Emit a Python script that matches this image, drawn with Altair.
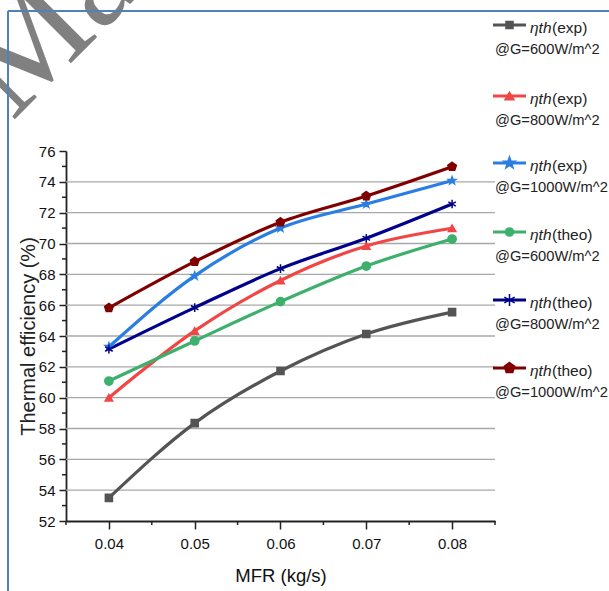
import altair as alt
import pandas as pd

# ---------------- data ----------------
mfr = [0.04, 0.05, 0.06, 0.07, 0.08]
series = ["exp600", "exp800", "exp1000", "theo600", "theo800", "theo1000"]
eff_exp_600 = [53.5, 58.35, 61.73, 64.13, 65.55]
eff_exp_800 = [60.0, 64.33, 67.6, 69.84, 70.99]
eff_exp_1000 = [63.3, 67.9, 71.0, 72.56, 74.08]
eff_theo_600 = [61.08, 63.68, 66.23, 68.54, 70.29]
eff_theo_800 = [63.15, 65.84, 68.37, 70.34, 72.56]
eff_theo_1000 = [65.82, 68.82, 71.38, 73.08, 74.98]
legend_kind = ["(exp)", "(exp)", "(exp)", "(theo)", "(theo)", " (theo)"]
legend_g = ["@G=600W/m^2", "@G=800W/m^2", "@G=1000W/m^2",
            "@G=600W/m^2", "@G=800W/m^2", "@G=1000W/m^2"]
y_ticks = list(range(52, 77, 2))
y_minor = list(range(53, 76, 2))
y_grid = list(range(54, 75, 2))
x_minor = [0.035, 0.045, 0.055, 0.065, 0.075, 0.085]

# ---------------- styles ----------------
colors = ["#545454", "#f04646", "#2a7ee3", "#3cb06c", "#00008b", "#800000"]
STAR = "M0,-1L0.235,-0.324L0.951,-0.309L0.38,0.124L0.588,0.809L0,0.4L-0.588,0.809L-0.38,0.124L-0.951,-0.309L-0.235,-0.324Z"
PENT = "M0,-1L0.951,-0.309L0.588,0.809L-0.588,0.809L-0.951,-0.309Z"
AST = "M0,-1L0,1M-0.87,-0.5L0.87,0.5M-0.87,0.5L0.87,-0.5"
shapes = ["square", "triangle-up", STAR, "circle", AST, PENT]
sizes = [50, 80, 150, 65, 140, 120]
FONT = "Liberation Sans"
W, H = 429, 370
L, T = 66, 151

rows = []
for s, vals in zip(series, [eff_exp_600, eff_exp_800, eff_exp_1000,
                            eff_theo_600, eff_theo_800, eff_theo_1000]):
    for m, v in zip(mfr, vals):
        rows.append({"series": s, "mfr": m, "eff": v})
df = pd.DataFrame(rows)

xscale = alt.Scale(domain=[0.035, 0.085], nice=False, zero=False)
yscale = alt.Scale(domain=[52, 76], nice=False, zero=False)
cscale = alt.Scale(domain=series, range=colors)

xaxis = alt.Axis(values=mfr, format=".2f", title="MFR (kg/s)", grid=False,
                 tickSize=8, tickWidth=1.5, tickColor="#222", domainColor="#222",
                 domainWidth=1.8, labelFont=FONT, labelFontSize=15, labelColor="#111",
                 labelPadding=7, labelFlush=False, labelOverlap=False,
                 titleFont=FONT, titleFontSize=18.5, titleFontWeight="normal",
                 titleColor="#111", titlePadding=15)
yaxis = alt.Axis(values=y_ticks, title="Thermal efficiency (%)", grid=False,
                 tickSize=7, tickWidth=1.5, tickColor="#222", domainColor="#222",
                 domainWidth=1.8, labelFont=FONT, labelFontSize=15, labelColor="#111",
                 labelPadding=4, labelFlush=False, labelOverlap=False,
                 titleFont=FONT, titleFontSize=20, titleFontWeight="normal",
                 titleColor="#222", titlePadding=0)

one = pd.DataFrame({"a": [0]})

grid = alt.Chart(pd.DataFrame({"v": y_grid})).mark_rule(
    color="#a8a8a8", strokeWidth=1.3).encode(
    y=alt.Y("v:Q", scale=yscale, axis=yaxis), x=alt.value(0), x2=alt.value(W))

ymin = alt.Chart(pd.DataFrame({"v": y_minor})).mark_rule(
    color="#222", strokeWidth=1.5).encode(
    y=alt.Y("v:Q", scale=yscale, axis=yaxis), x=alt.value(-4), x2=alt.value(0))

xmin = alt.Chart(pd.DataFrame({"v": x_minor})).mark_rule(
    color="#222", strokeWidth=1.5).encode(
    x=alt.X("v:Q", scale=xscale, axis=xaxis), y=alt.value(H), y2=alt.value(H + 4))

lines = alt.Chart(df).mark_line(strokeWidth=3.2, interpolate="monotone").encode(
    x=alt.X("mfr:Q", scale=xscale, axis=xaxis),
    y=alt.Y("eff:Q", scale=yscale, axis=yaxis),
    color=alt.Color("series:N", scale=cscale, legend=None),
)

points = alt.Chart(df).mark_point(filled=True, opacity=1, strokeWidth=1.5).encode(
    x=alt.X("mfr:Q", scale=xscale, axis=xaxis),
    y=alt.Y("eff:Q", scale=yscale, axis=yaxis),
    color=alt.Color("series:N", scale=cscale, legend=None),
    stroke=alt.Stroke("series:N", scale=cscale, legend=None),
    shape=alt.Shape("series:N", scale=alt.Scale(domain=series, range=shapes), legend=None),
    size=alt.Size("series:N", scale=alt.Scale(domain=series, range=sizes), legend=None),
)

layers = [grid, lines, points, ymin, xmin]

# ---------------- legend ----------------
line_y = [25, 96, 163, 232, 300, 368]
for i in range(6):
    yl = line_y[i] - T
    layers.append(alt.Chart(one).mark_rule(color=colors[i], strokeWidth=3.2).encode(
        x=alt.value(493 - L), x2=alt.value(526 - L), y=alt.value(yl)))
    layers.append(alt.Chart(one).mark_point(
        shape=shapes[i], size=sizes[i], filled=True, fill=colors[i], stroke=colors[i],
        strokeWidth=1.5, opacity=1).encode(x=alt.value(509.5 - L), y=alt.value(yl)))
    layers.append(alt.Chart(one).mark_text(
        text="ηth", font=FONT, fontSize=15.5, fontStyle="italic", align="left",
        baseline="middle", color="#222").encode(x=alt.value(530 - L), y=alt.value(yl + 3)))
    layers.append(alt.Chart(one).mark_text(
        text=legend_kind[i], font=FONT, fontSize=15.5, align="left",
        baseline="middle", color="#222").encode(
        x=alt.value(552 - L), y=alt.value(yl + 3)))
    layers.append(alt.Chart(one).mark_text(
        text=legend_g[i], font=FONT, fontSize=14.7, align="left",
        baseline="middle", color="#222").encode(x=alt.value(495 - L), y=alt.value(yl + 25)))

# ---------------- watermark & frame ----------------
layers.append(alt.Chart(one).mark_text(
    text="Manuscript", font="Liberation Serif", fontSize=140, angle=315, align="left",
    baseline="alphabetic", color="#808080").encode(x=alt.value(12 - L), y=alt.value(122 - T)))
layers.append(alt.Chart(one).mark_rule(color="#4f81bd", strokeWidth=2).encode(
    x=alt.value(8 - L), x2=alt.value(609 - L), y=alt.value(11 - T)))
layers.append(alt.Chart(one).mark_rule(color="#4f81bd", strokeWidth=2).encode(
    x=alt.value(8 - L), y=alt.value(11 - T), y2=alt.value(591 - T)))

chart = alt.layer(*layers).properties(
    width=W, height=H,
    autosize=alt.AutoSizeParams(type="none"),
    padding={"left": L, "top": T, "right": 609 - L - W, "bottom": 591 - T - H},
    background="white",
).configure_view(stroke=None)

chart.save("out.html", embed_options={"renderer": "svg", "actions": False})
